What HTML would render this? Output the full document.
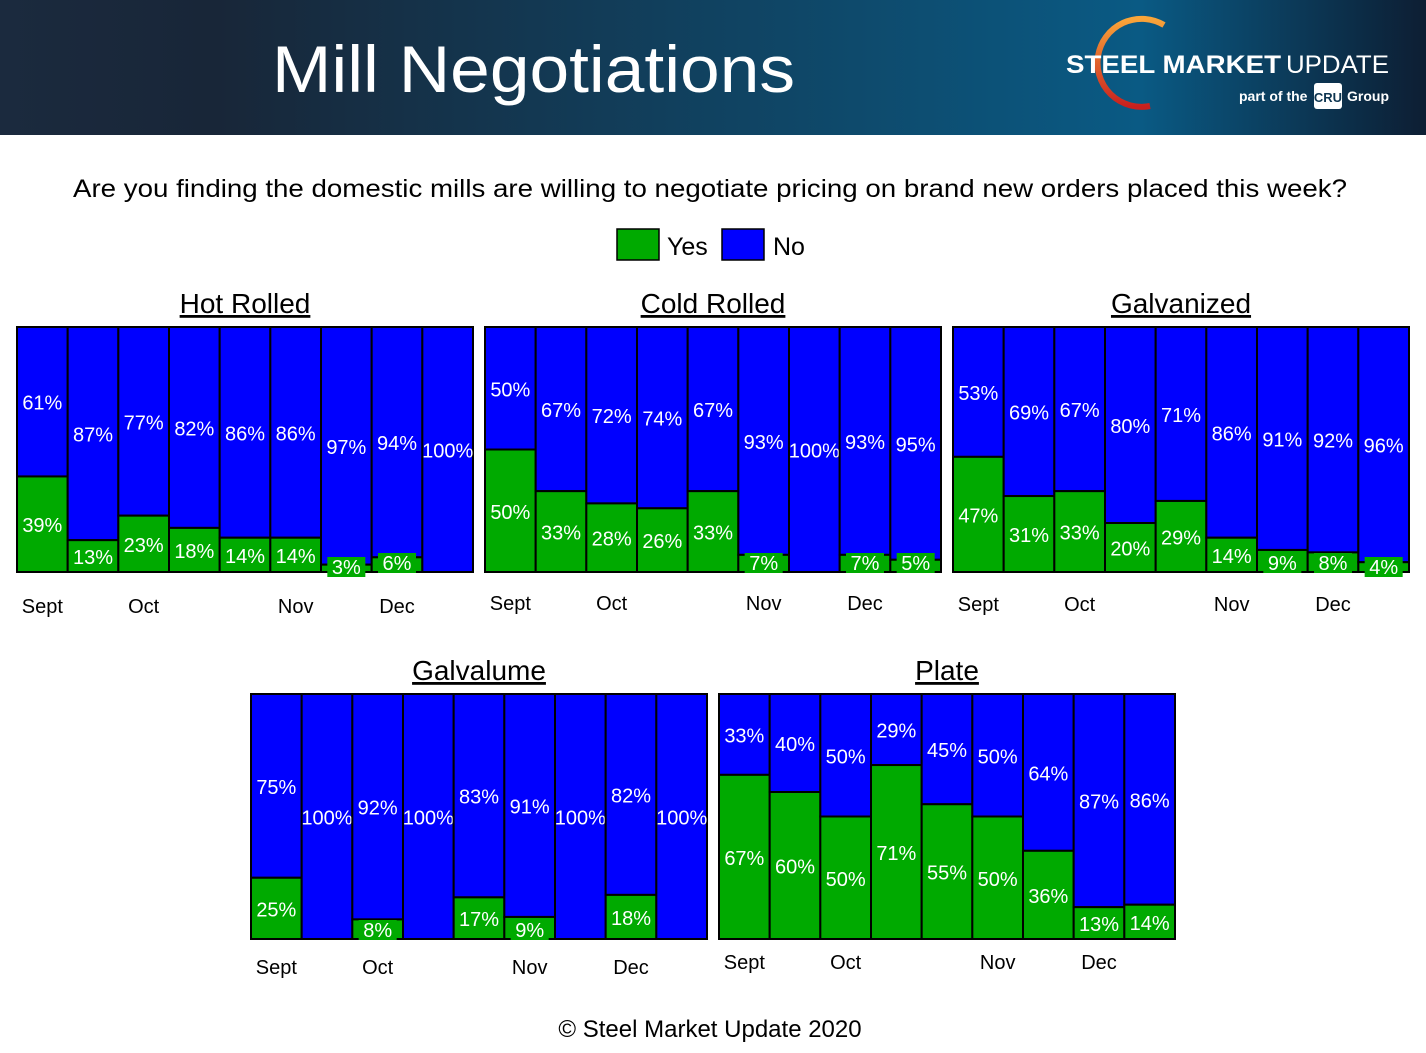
<!DOCTYPE html>
<html><head><meta charset="utf-8"><style>
html,body{margin:0;padding:0;background:#fff;}
body{width:1426px;height:1048px;overflow:hidden;font-family:"Liberation Sans",sans-serif;}
</style></head><body>
<svg id="root" width="1426" height="1048" viewBox="0 0 1426 1048" xmlns="http://www.w3.org/2000/svg">
<defs>
<linearGradient id="hdr" x1="0" x2="1" y1="0" y2="0">
<stop offset="0" stop-color="#1b2a3e"/><stop offset="0.15" stop-color="#182638"/><stop offset="0.6" stop-color="#0e4a6c"/><stop offset="0.8" stop-color="#0a5a84"/><stop offset="1" stop-color="#0d1e33"/>
</linearGradient>
<linearGradient id="arc" x1="0" x2="0" y1="0" y2="1"><stop offset="0" stop-color="#f9a53a"/><stop offset="1" stop-color="#c8201e"/></linearGradient>
</defs>
<rect x="0" y="0" width="1426" height="135" fill="url(#hdr)"/>
<text x="272" y="92" font-size="66" fill="#fff" textLength="523" lengthAdjust="spacingAndGlyphs">Mill Negotiations</text>
<g>
<path d="M1164 25 A44 44 0 1 0 1150 106" fill="none" stroke="url(#arc)" stroke-width="6"/>
<text x="1066" y="73" font-size="25" font-weight="bold" fill="#fff" textLength="215" lengthAdjust="spacingAndGlyphs">STEEL MARKET</text>
<text x="1286" y="73" font-size="25" fill="#fff" textLength="103" lengthAdjust="spacingAndGlyphs">UPDATE</text>
<text x="1239" y="101" font-size="14" font-weight="bold" fill="#fff">part of the</text>
<rect x="1314" y="83" width="28" height="26" rx="3" fill="#fff"/>
<text x="1328" y="102" font-size="13" font-weight="bold" fill="#0d3550" text-anchor="middle">CRU</text>
<text x="1347" y="101" font-size="14" font-weight="bold" fill="#fff">Group</text>
</g>
<text x="710" y="197" font-size="25" fill="#000" text-anchor="middle" textLength="1274" lengthAdjust="spacingAndGlyphs">Are you finding the domestic mills are willing to negotiate pricing on brand new orders placed this week?</text>
<g>
<g><rect x="617" y="229" width="42" height="31" fill="#00aa00" stroke="#000" stroke-width="1.5"/><text x="667" y="255" font-size="25">Yes</text></g>
<g><rect x="722" y="229" width="42" height="31" fill="#0000ff" stroke="#000" stroke-width="1.5"/><text x="773" y="255" font-size="25">No</text></g>
</g>
<text x="710" y="1037" font-size="24" text-anchor="middle">© Steel Market Update 2020</text>
<g id="charts"></g>
</svg>
<script>
const monthLabels = ["Sept","Oct","Nov","Dec"];
const monthBarIndex = [0,2,5,7];
const hotRolledYes = [39,13,23,18,14,14,3,6,0];
const coldRolledYes = [50,33,28,26,33,7,0,7,5];
const galvanizedYes = [47,31,33,20,29,14,9,8,4];
const galvalumeYes = [25,0,8,0,17,9,0,18,0];
const plateYes = [67,60,50,71,55,50,36,13,14];

const NS="http://www.w3.org/2000/svg";
const root=document.getElementById('charts');
function mk(tag,attrs,parent){const e=document.createElementNS(NS,tag);for(const k in attrs)e.setAttribute(k,attrs[k]);parent.appendChild(e);return e;}

function drawChart(name,title,yes,x0,y0,w,h,monthY){
  const g=mk('g',{},root);
  
  
  const t=mk('text',{x:x0+w/2,y:y0-14,'font-size':28,'text-anchor':'middle','text-decoration':'underline'},g);
  t.textContent=title;
  
  
  const n=yes.length, bw=w/n;
  const yScale=v=>h*v/100;
  yes.forEach((v,i)=>{
    const bx=x0+i*bw, no=100-v;
    const hy=yScale(v), hn=yScale(no);
    const b=mk('rect',{x:bx,y:y0,width:bw,height:hn,fill:'#0000ff',stroke:'#000','stroke-width':2},g);
    
    
    if(v>0){
      const gy=mk('rect',{x:bx,y:y0+hn,width:bw,height:hy,fill:'#00aa00',stroke:'#000','stroke-width':2},g);
      
      
    }
    const cx=bx+bw/2;
    const tn=mk('text',{x:cx,y:y0+hn/2+8,'font-size':20,fill:'#fff','text-anchor':'middle'},g);
    tn.textContent=no+'%';
    
    
    if(v>0){
      let ly=y0+hn+hy/2+8;
      if(hy<24){
        ly=y0+h-2+ (hy<10?4:0);
        const lw=v<10?38:44;
        mk('rect',{x:cx-lw/2,y:ly-17,width:lw,height:20,fill:'#00aa00'},g);
      }
      const ty=mk('text',{x:cx,y:ly,'font-size':20,fill:'#fff','text-anchor':'middle'},g);
      ty.textContent=v+'%';
      
      
    }
  });
  monthLabels.forEach((m,j)=>{
    const cx=x0+monthBarIndex[j]*bw+bw/2;
    const ml=mk('text',{x:cx,y:monthY,'font-size':20,'text-anchor':'middle'},g);
    ml.textContent=m;
    
    
  });
}
drawChart('hot-rolled','Hot Rolled',hotRolledYes,17,327,456,245,613);
drawChart('cold-rolled','Cold Rolled',coldRolledYes,485,327,456,245,610);
drawChart('galvanized','Galvanized',galvanizedYes,953,327,456,245,611);
drawChart('galvalume','Galvalume',galvalumeYes,251,694,456,245,974);
drawChart('plate','Plate',plateYes,719,694,456,245,969);
</script>
</body></html>
